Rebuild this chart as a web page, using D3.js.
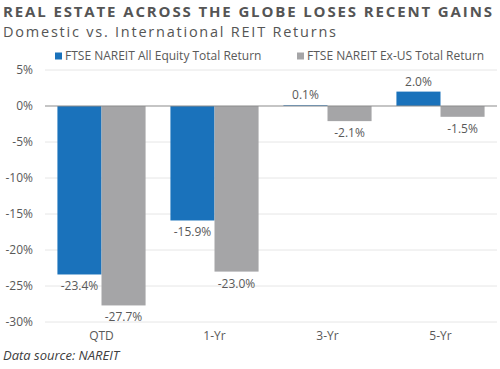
<!DOCTYPE html>
<html><head><meta charset="utf-8">
<script src="https://cdn.jsdelivr.net/npm/d3@7"></script>
<style>body{margin:0;background:#fff}svg{display:block}</style>
</head><body>
<script>
const categories = ["QTD", "1-Yr", "3-Yr", "5-Yr"];
const seriesNames = ["FTSE NAREIT All Equity Total Return", "FTSE NAREIT Ex-US Total Return"];
const domestic = [-23.4, -15.9, 0.1, 2.0];
const international = [-27.7, -23.0, -2.1, -1.5];
const yTicks = [5, 0, -5, -10, -15, -20, -25, -30];
const colors = ["#1a72bb", "#a5a5a7"];

const W = 500, H = 369;
const svg = d3.select("body").append("svg").attr("width", W).attr("height", H);
const font = "'Open Sans', sans-serif";
const txt = "#595959";

svg.append("text").attr("x", 3).attr("y", 17).attr("font-family", font).attr("font-weight", "bold")
  .attr("font-size", 15).attr("textLength", 489).attr("lengthAdjust", "spacing")
  .attr("fill", "#555").text("REAL ESTATE ACROSS THE GLOBE LOSES RECENT GAINS");
svg.append("text").attr("x", 3).attr("y", 37).attr("font-family", font)
  .attr("font-size", 14.5).attr("textLength", 333).attr("lengthAdjust", "spacing")
  .attr("fill", "#555").text("Domestic vs. International REIT Returns");

const x = d3.scaleBand().domain(categories).range([45, 497]).paddingInner(0.22).paddingOuter(0.11);
const xs = d3.scaleBand().domain([0, 1]).range([0, x.bandwidth()]);
const y = d3.scaleLinear().domain([-30, 5]).range([322, 70]);

// gridlines
svg.append("g").selectAll("line").data(yTicks.filter(t => t !== 0)).join("line")
  .attr("x1", 45).attr("x2", 497).attr("y1", d => y(d)).attr("y2", d => y(d))
  .attr("stroke", "#e6e6e6").attr("stroke-width", 1);

const yAxis = svg.append("g").attr("transform", "translate(45,0)")
  .call(d3.axisLeft(y).tickValues(yTicks).tickFormat(d => d + "%").tickSize(0).tickPadding(12));
yAxis.select(".domain").remove();
yAxis.selectAll("text").attr("font-family", font).attr("font-size", 12).attr("fill", txt);

const data = categories.map((c, i) => ({ c, vals: [domestic[i], international[i]] }));
const g = svg.append("g").selectAll("g").data(data).join("g").attr("transform", d => `translate(${x(d.c)},0)`);
g.selectAll("rect").data(d => d.vals.map((v, k) => ({ v, k }))).join("rect")
  .attr("x", d => xs(d.k)).attr("width", xs.bandwidth())
  .attr("y", d => y(Math.max(0, d.v))).attr("height", d => Math.abs(y(d.v) - y(0)))
  .attr("fill", d => colors[d.k]);
g.selectAll("text").data(d => d.vals.map((v, k) => ({ v, k }))).join("text")
  .attr("x", d => xs(d.k) + xs.bandwidth() / 2)
  .attr("y", d => d.v >= 0 ? y(d.v) - 6 : y(d.v) + 16)
  .attr("text-anchor", "middle").attr("font-family", font).attr("font-size", 12).attr("fill", txt)
  .text(d => d.v.toFixed(1) + "%");

// zero line
svg.append("line").attr("x1", 45).attr("x2", 497).attr("y1", y(0)).attr("y2", y(0))
  .attr("stroke", "#8c8c8c").attr("stroke-width", 1.2);

const xAxis = svg.append("g").attr("transform", "translate(0,322)")
  .call(d3.axisBottom(x).tickSize(0).tickPadding(9));
xAxis.select(".domain").remove();
xAxis.selectAll("text").attr("font-family", font).attr("font-size", 12).attr("fill", txt);

// legend
const legX = [55, 297];
const lg = svg.append("g").selectAll("g").data(seriesNames).join("g")
  .attr("transform", (d, i) => `translate(${legX[i]},56)`);
lg.append("rect").attr("x", 0).attr("y", -3.5).attr("width", 7).attr("height", 7).attr("fill", (d, i) => colors[i]);
lg.append("text").attr("x", 10).attr("y", 4).attr("font-family", font).attr("font-size", 12).attr("fill", txt).text(d => d);

svg.append("text").attr("x", 3).attr("y", 360).attr("font-family", font).attr("font-style", "italic")
  .attr("font-size", 13).attr("fill", "#404040").text("Data source: NAREIT");
</script>
</body></html>
